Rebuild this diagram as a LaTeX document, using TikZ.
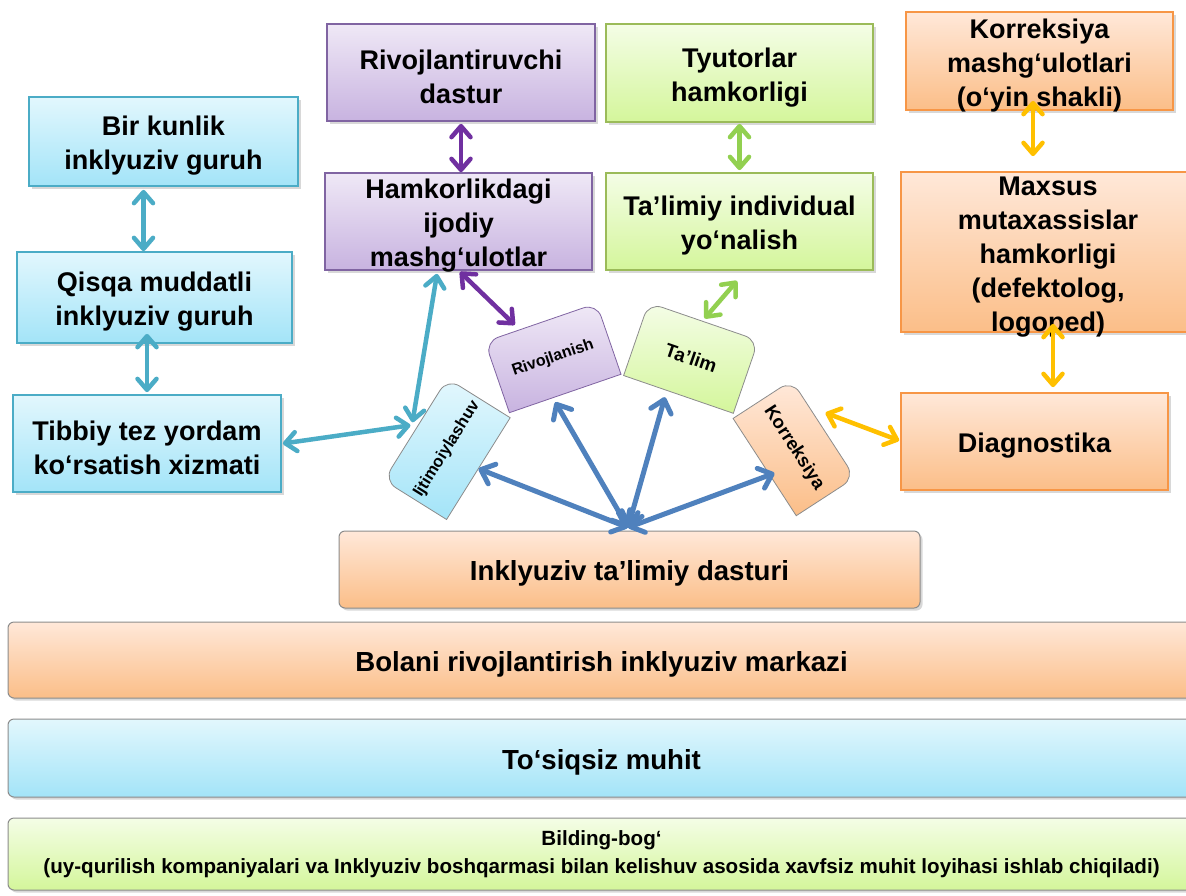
\documentclass[tikz,border=0pt]{standalone}
\usepackage{fontspec}
\setmainfont{Liberation Sans}
\usetikzlibrary{arrows.meta,shadows}
\definecolor{cTealB}{HTML}{4BACC6}
\definecolor{cTealT}{HTML}{E2F7FD}
\definecolor{cTealD}{HTML}{A3E4F8}
\definecolor{cPurB}{HTML}{8064A2}
\definecolor{cPurT}{HTML}{EFE8F6}
\definecolor{cPurD}{HTML}{C8B3E0}
\definecolor{cGrnB}{HTML}{9BBB59}
\definecolor{cGrnT}{HTML}{F4FDE6}
\definecolor{cGrnD}{HTML}{D4F69B}
\definecolor{cOrB}{HTML}{F79646}
\definecolor{cOrT}{HTML}{FFE8D9}
\definecolor{cOrD}{HTML}{FBBE88}
\definecolor{aTeal}{HTML}{4BACC6}
\definecolor{aPur}{HTML}{7030A0}
\definecolor{aGrn}{HTML}{92D050}
\definecolor{aGold}{HTML}{FFC000}
\definecolor{aBlue}{HTML}{4F81BD}
\definecolor{cGrayB}{HTML}{8C8C8C}
\newcommand\toprounded[6]{%
  \begin{scope}[shift={(#1,#2)},rotate=#3,y=1pt]
    \path[#6] (-#4,-#5) -- (-#4,#5-14) arc[start angle=180,end angle=90,radius=14pt]
      -- (#4-14,#5) arc[start angle=90,end angle=0,radius=14pt] -- (#4,-#5) -- cycle;
  \end{scope}}
\newcommand\topstrut{\rule{0pt}{28pt}}
\begin{document}
\begin{tikzpicture}[x=1pt,y=-1pt,
  >={Straight Barb[length=11pt,width=19pt,round]},
  shadowed/.style={drop shadow={shadow xshift=2.5pt,shadow yshift=-2.5pt,opacity=0.3}},
  bx/.style={rectangle,line width=1.8pt,shadowed,align=center,inner xsep=0pt,inner ysep=-8pt,
    font=\fontsize{27}{34}\selectfont\bfseries},
  tealbox/.style={bx,draw=cTealB,top color=cTealT,bottom color=cTealD},
  purbox/.style={bx,draw=cPurB,top color=cPurT,bottom color=cPurD},
  grnbox/.style={bx,draw=cGrnB,top color=cGrnT,bottom color=cGrnD},
  orbox/.style={bx,draw=cOrB,top color=cOrT,bottom color=cOrD},
  bar/.style={rectangle,rounded corners=6pt,draw=cGrayB,line width=1pt,shadowed,align=center,
    inner sep=0pt,font=\fontsize{27.6}{34}\selectfont\bfseries},
  ctext/.style={rectangle,inner sep=0pt,align=center},
  conn/.style={line width=4.5pt,<->},
  bconn/.style={line width=5pt,{Straight Barb[length=12pt,width=21pt,round]}-{Straight Barb[length=12pt,width=21pt,round]},color=aBlue},
]
\useasboundingbox (0,0) rectangle (1186,895);
\clip (0,0) rectangle (1186,895);
\fill[white] (0,0) rectangle (1186,895);

% left teal column
\node[tealbox,minimum width=269pt,minimum height=89pt] (bir) at (163.5,141.5) {\topstrut Bir kunlik\\inklyuziv guruh};
\node[tealbox,minimum width=275pt,minimum height=91pt] (qisqa) at (154.5,297.5) {\topstrut Qisqa muddatli\\inklyuziv guruh};
\node[tealbox,minimum width=268pt,minimum height=97pt] (tibbiy) at (147,443.5) {\topstrut Tibbiy tez yordam\\ko‘rsatish xizmati};

% purple column
\node[purbox,minimum width=268pt,minimum height=97pt] (rivd) at (461,72.5) {\topstrut Rivojlantiruvchi\\dastur};
\node[purbox,minimum width=267pt,minimum height=97pt] (hamk) at (458.5,221.5) {\topstrut Hamkorlikdagi\\ijodiy\\mashg‘ulotlar};

% green column
\node[grnbox,minimum width=267pt,minimum height=98pt] (tyut) at (739.5,73) {\topstrut Tyutorlar\\hamkorligi};
\node[grnbox,minimum width=267pt,minimum height=97pt] (talimiy) at (739.5,221.5) {\topstrut Ta’limiy individual\\yo‘nalish};

% orange column
\node[orbox,minimum width=267pt,minimum height=98pt] (korm) at (1039.5,61) {\topstrut Korreksiya\\mashg‘ulotlari\\(o‘yin shakli)};
\node[orbox,minimum width=294pt,minimum height=160pt] (maxsus) at (1048,252) {\topstrut Maxsus\\mutaxassislar\\hamkorligi\\(defektolog,\\logoped)};
\node[orbox,minimum width=267pt,minimum height=97pt] (diag) at (1034.5,441.5) {\topstrut Diagnostika};

% bottom bars
\node[bar,top color=cOrT,bottom color=cOrD,minimum width=581pt,minimum height=77pt] (dastur) at (629.5,569.5) {\topstrut Inklyuziv ta’limiy dasturi};
\node[bar,top color=cOrT,bottom color=cOrD,minimum width=1187pt,minimum height=76pt] (bolani) at (601.5,660) {\topstrut Bolani rivojlantirish inklyuziv markazi};
\node[bar,top color=cTealT,bottom color=cTealD,minimum width=1187pt,minimum height=78pt] (tosiq) at (601.5,758) {\topstrut To‘siqsiz muhit};
\node[bar,top color=cGrnT,bottom color=cGrnD,minimum width=1187pt,minimum height=72pt,
  font=\fontsize{20.6}{28}\selectfont\bfseries] (bilding) at (601.5,854) {Bilding-bog‘\\(uy-qurilish kompaniyalari va Inklyuziv boshqarmasi bilan kelishuv asosida xavfsiz muhit loyihasi ishlab chiqiladi)};

% central rotated shapes
\toprounded{447}{449}{58}{60}{37}{draw=cGrayB,line width=0.8pt,top color=cTealT,bottom color=cTealD}
\toprounded{553}{358}{19}{59}{37.5}{draw=cPurB,line width=0.8pt,top color=cPurT,bottom color=cPurD}
\toprounded{691}{358}{-19}{58}{38.5}{draw=cGrayB,line width=0.8pt,top color=cGrnT,bottom color=cGrnD}
\toprounded{794}{448}{-57}{58}{35}{draw=cGrayB,line width=0.8pt,top color=cOrT,bottom color=cOrD}
\node[ctext,rotate=58,minimum width=120pt,minimum height=74pt,font=\fontsize{16.5}{19}\selectfont\bfseries] (ijt) at (447,449) {Ijtimoiylashuv};
\node[ctext,rotate=19,minimum width=118pt,minimum height=75pt,font=\fontsize{16}{19}\selectfont\bfseries] (riv) at (553,358) {Rivojlanish};
\node[ctext,rotate=-19,minimum width=116pt,minimum height=77pt,font=\fontsize{19}{22}\selectfont\bfseries] (tal) at (691,358) {Ta’lim};
\node[ctext,rotate=-57,minimum width=116pt,minimum height=70pt,font=\fontsize{18.5}{21}\selectfont\bfseries] (kor) at (794,448) {Korreksiya};

% teal connectors
\draw[conn,aTeal] ([xshift=-20pt,yshift=-3pt]bir.south) -- ([xshift=-11pt]qisqa.north);
\draw[conn,aTeal] ([xshift=-7.5pt,yshift=10pt]qisqa.south) -- ([yshift=2pt]tibbiy.north);
\draw[conn,aTeal] ([xshift=1pt]tibbiy.east) -- ([xshift=-5pt,yshift=4pt]ijt.north);
\draw[conn,aTeal] ([xshift=-3pt,yshift=7pt]ijt.north) -- ([xshift=-21.5pt,yshift=-3pt]hamk.south);
% purple connectors
\draw[conn,aPur] ([yshift=-2pt]rivd.south) -- ([xshift=2.5pt]hamk.north);
\draw[conn,aPur] ([xshift=1.5pt,yshift=-1pt]hamk.south) -- ([xshift=-26pt,yshift=-2.5pt]riv.north);
% green connectors
\draw[conn,aGrn] ([yshift=-1pt]tyut.south) -- ([yshift=2pt]talimiy.north);
\draw[conn,aGrn] ([xshift=-2.5pt,yshift=-10pt]talimiy.south) -- ([xshift=1pt,yshift=3pt]tal.north);
% gold connectors
\draw[conn,aGold] ([xshift=-6.5pt,yshift=10pt]korm.south) -- ([xshift=-15pt,yshift=15pt]maxsus.north);
\draw[conn,aGold] ([xshift=5pt,yshift=9pt]maxsus.south) -- ([xshift=18.5pt,yshift=5pt]diag.north);
\draw[conn,aGold] ([xshift=-1pt,yshift=1pt]diag.west) -- ([xshift=2pt,yshift=16pt]kor.north);
% blue connectors
\coordinate (hub) at ([xshift=-1.5pt,yshift=3pt]dastur.north);
\draw[bconn] (hub) -- (ijt.south);
\draw[bconn] (hub) -- ([xshift=-10pt,yshift=-8.5pt]riv.south);
\draw[bconn] (hub) -- ([xshift=-13.5pt,yshift=-2.6pt]tal.south);
\draw[bconn] (hub) -- ([xshift=10pt,yshift=-6pt]kor.south);
\end{tikzpicture}
\end{document}
